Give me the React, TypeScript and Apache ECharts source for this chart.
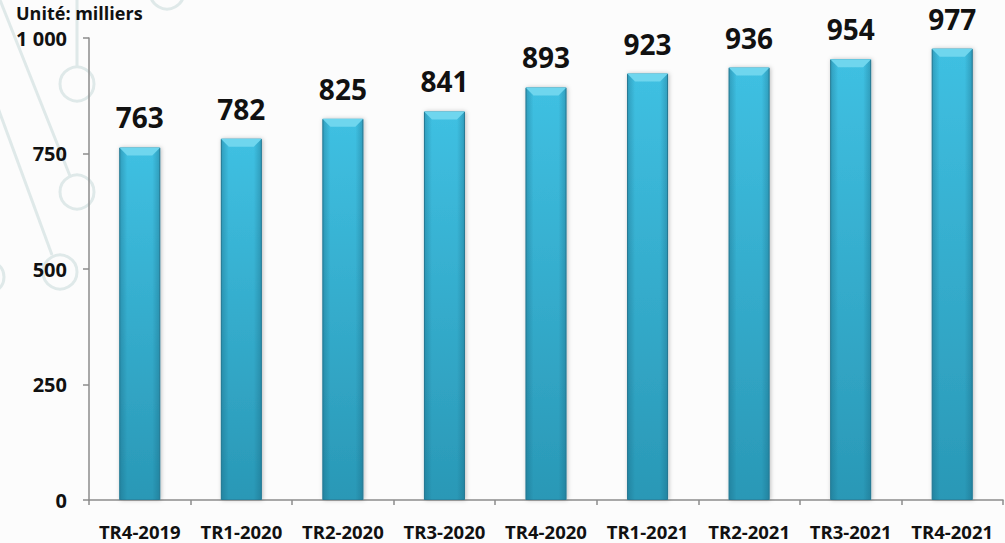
import React, { useEffect, useRef } from "react";
import * as echarts from "echarts";

const categories = ["TR4-2019", "TR1-2020", "TR2-2020", "TR3-2020", "TR4-2020", "TR1-2021", "TR2-2021", "TR3-2021", "TR4-2021"];
const values = [763, 782, 825, 841, 893, 923, 936, 954, 977];
const yTicks = [0, 250, 500, 750, 1000];
const unitLabel = "Unité: milliers";

const FONT = "'Open Sans', 'DejaVu Sans', sans-serif";
const DECO = "#dfe9e9";

export default function App() {
  const ref = useRef<HTMLDivElement>(null);
  useEffect(() => {
    document.body.style.margin = "0";
    const chart = echarts.init(ref.current!, undefined, { renderer: "svg" });
    const option: any = {
      animation: false,
      backgroundColor: "#fcfcfc",
      grid: { left: 89, right: 2, top: 38, bottom: 43, containLabel: false },
      graphic: [
        { type: "line", shape: { x1: 0, y1: 0, x2: 70, y2: 176 }, style: { stroke: DECO, lineWidth: 3 }, z: -10 },
        { type: "circle", shape: { cx: 77, cy: 192, r: 17 }, style: { fill: "none", stroke: DECO, lineWidth: 3 }, z: -10 },
        { type: "line", shape: { x1: 77, y1: 0, x2: 77, y2: 66 }, style: { stroke: DECO, lineWidth: 3 }, z: -10 },
        { type: "circle", shape: { cx: 77, cy: 84, r: 17 }, style: { fill: "none", stroke: DECO, lineWidth: 3 }, z: -10 },
        { type: "line", shape: { x1: -2, y1: 108, x2: 52, y2: 255 }, style: { stroke: DECO, lineWidth: 3 }, z: -10 },
        { type: "circle", shape: { cx: 60, cy: 272, r: 17 }, style: { fill: "none", stroke: DECO, lineWidth: 3 }, z: -10 },
        { type: "circle", shape: { cx: 167, cy: -8, r: 17 }, style: { fill: "none", stroke: DECO, lineWidth: 3 }, z: -10 },
        { type: "circle", shape: { cx: -12, cy: 277, r: 16 }, style: { fill: "none", stroke: DECO, lineWidth: 3 }, z: -10 },
        {
          type: "text",
          left: 16,
          top: 4,
          style: { text: unitLabel, font: `bold 18px ${FONT}`, fill: "#111", lineHeight: 18 },
        },
      ],
      xAxis: {
        type: "category",
        data: categories,
        axisLine: { lineStyle: { color: "#8c8c8c", width: 1.5 } },
        axisTick: { show: true, length: 5, lineStyle: { color: "#8c8c8c", width: 1.5 } },
        axisLabel: { color: "#111", fontFamily: FONT, fontWeight: "bold", fontSize: 18.5, lineHeight: 19, margin: 22, interval: 0 },
      },
      yAxis: {
        type: "value",
        min: 0,
        max: 1000,
        interval: 250,
        splitLine: { show: false },
        axisLine: { show: true, lineStyle: { color: "#8c8c8c", width: 1.5 } },
        axisTick: { show: true, length: 6, lineStyle: { color: "#8c8c8c", width: 1.5 } },
        axisLabel: {
          color: "#111",
          fontFamily: FONT,
          fontWeight: "bold",
          fontSize: 20,
          lineHeight: 16,
          margin: 22,
          formatter: (v: number) => (yTicks.includes(v) ? (v >= 1000 ? String(v).replace(/\B(?=(\d{3})+(?!\d))/g, " ") : String(v)) : ""),
        },
      },
      series: [
        {
          type: "bar",
          data: values,
          barWidth: 41,
          itemStyle: {
            color: {
              type: "linear",
              x: 0, y: 0, x2: 0, y2: 1,
              colorStops: [
                { offset: 0, color: "#3fc0e2" },
                { offset: 1, color: "#2a98b6" },
              ],
            },
            borderColor: "#2a86a2",
            borderWidth: 1,
            shadowColor: "rgba(0,0,0,0.25)",
            shadowBlur: 4,
            shadowOffsetX: 1,
          },
          label: {
            show: true,
            position: "top",
            distance: 16,
            color: "#111",
            fontFamily: FONT,
            fontWeight: "bold",
            fontSize: 28,
          },
        },
        {
          type: "custom",
          data: values.map((v, i) => [i, v]),
          z: 3,
          silent: true,
          renderItem: (params: any, api: any) => {
            const top = api.coord([api.value(0), api.value(1)]);
            const base = api.coord([api.value(0), 0]);
            const w = 41;
            const x0 = top[0] - w / 2;
            const x1 = top[0] + w / 2;
            const y0 = top[1];
            const b = 8;
            return {
              type: "group",
              children: [
                {
                  type: "polygon",
                  shape: { points: [[x0, y0], [x1, y0], [x1 - b, y0 + b], [x0 + b, y0 + b]] },
                  style: { fill: "#6fd6ee" },
                },
                {
                  type: "polygon",
                  shape: { points: [[x0, y0], [x0 + b, y0 + b], [x0 + b, base[1]], [x0, base[1]]] },
                  style: {
                    fill: {
                      type: "linear", x: 0, y: 0, x2: 1, y2: 0,
                      colorStops: [
                        { offset: 0, color: "rgba(20,90,115,0.35)" },
                        { offset: 1, color: "rgba(20,90,115,0)" },
                      ],
                    },
                  },
                },
                {
                  type: "polygon",
                  shape: { points: [[x1, y0], [x1 - b, y0 + b], [x1 - b, base[1]], [x1, base[1]]] },
                  style: {
                    fill: {
                      type: "linear", x: 0, y: 0, x2: 1, y2: 0,
                      colorStops: [
                        { offset: 0, color: "rgba(20,90,115,0)" },
                        { offset: 1, color: "rgba(20,90,115,0.35)" },
                      ],
                    },
                  },
                },
              ],
            };
          },
        },
      ],
    };
    chart.setOption(option);
    return () => chart.dispose();
  }, []);
  return <div ref={ref} style={{ width: 1005, height: 543 }} />;
}
